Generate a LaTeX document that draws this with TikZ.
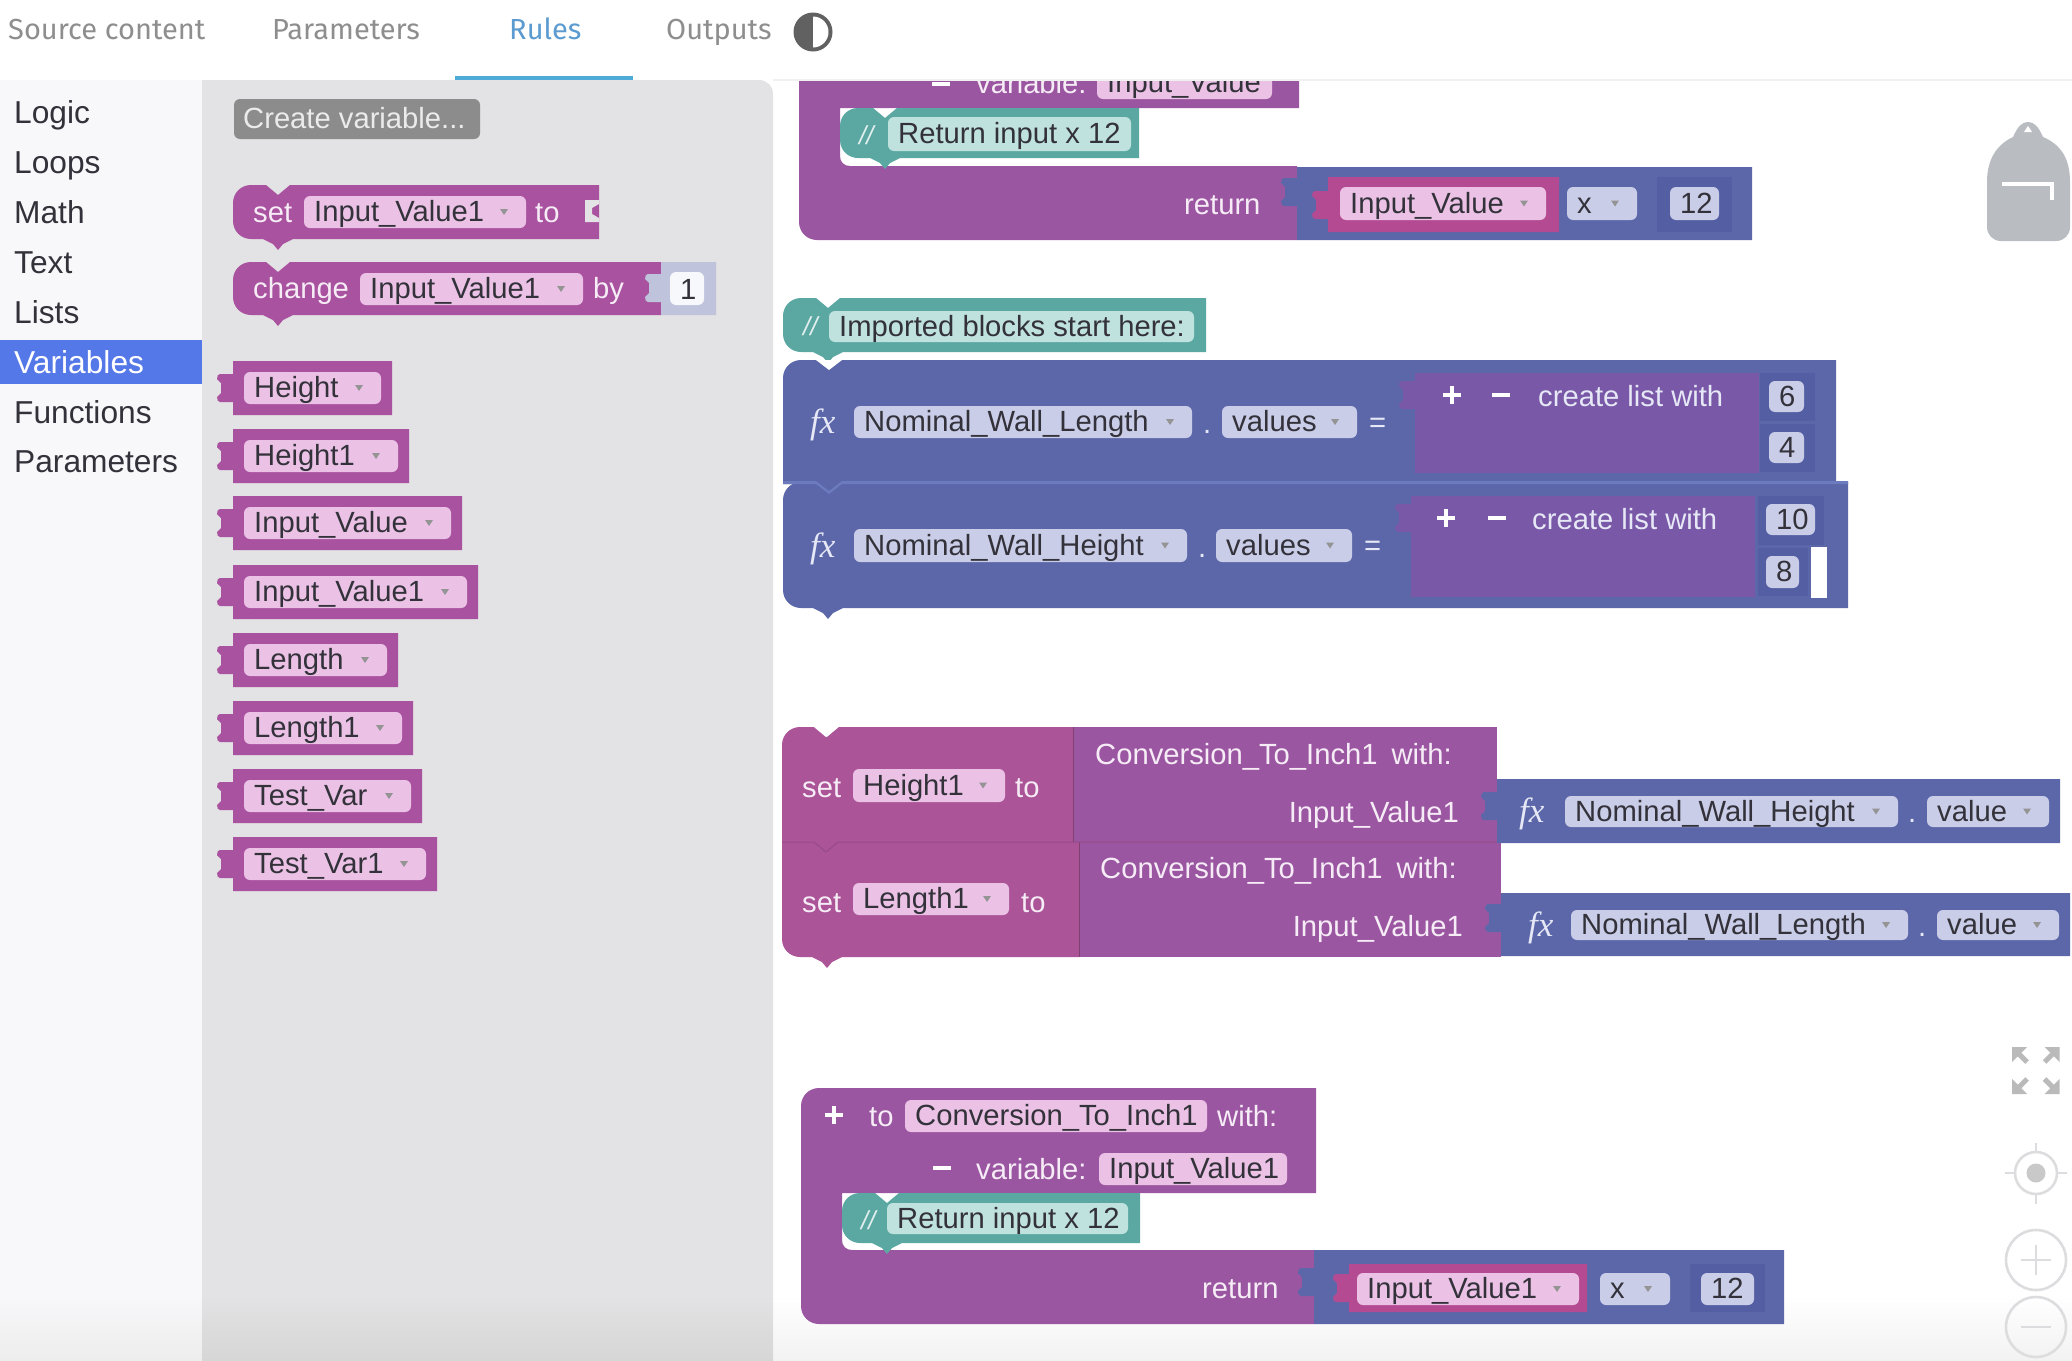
\documentclass[tikz,border=0pt]{standalone}
\usepackage{fontspec}
\setmainfont{Liberation Sans}
\newfontfamily\tabfont{Fira Sans}
\newfontfamily\fxfont{Liberation Serif}
\definecolor{menubg}{HTML}{F8F7F9}
\definecolor{flybg}{HTML}{E3E2E4}
\definecolor{selblue}{HTML}{5578E8}
\definecolor{tabgrey}{HTML}{8E8E8E}
\definecolor{tabblue}{HTML}{5C9BD0}
\definecolor{magb}{HTML}{A9529F}
\definecolor{magl}{HTML}{AC5498}
\definecolor{purb}{HTML}{9B56A2}
\definecolor{bluB}{HTML}{5B67A9}
\definecolor{bluD}{HTML}{545FA3}
\definecolor{bluH}{HTML}{6C7BBE}
\definecolor{lstb}{HTML}{7958A8}
\definecolor{tealb}{HTML}{5BA8A2}
\definecolor{pinkin}{HTML}{B34A92}
\definecolor{pinkf}{HTML}{EBC2E6}
\definecolor{bluef}{HTML}{C9CDE8}
\definecolor{tealf}{HTML}{C0E2DE}
\definecolor{ink}{HTML}{33323A}
\definecolor{softw}{HTML}{F6ECF6}
\definecolor{softb}{HTML}{E6E8F6}
\definecolor{icong}{HTML}{DDDDDF}
\definecolor{packg}{HTML}{B9BCC1}
\tikzset{
  txt/.style={inner sep=0pt,anchor=base west,font=\fontsize{29.2}{30}\selectfont,text=ink},
  wtxt/.style={txt,text=softw},
  btxt/.style={txt,text=softb},
  slash/.style={inner sep=0pt,anchor=base west,font=\itshape\fontsize{26}{28}\selectfont,text=white!82!tealb},
  menu/.style={inner sep=0pt,anchor=base west,font=\fontsize{31.7}{32}\selectfont,text=ink},
  tabtxt/.style={inner sep=0pt,anchor=base west,font=\tabfont\fontsize{29}{30}\selectfont,text=tabgrey},
  fxt/.style={inner sep=0pt,anchor=base west,font=\fxfont\itshape\fontsize{35}{36}\selectfont,text=softb},
  ico/.style={draw=icong,line width=2.6pt,fill=none},
  pm/.style={draw=white,line width=4.5pt},
}
% rounded field: x1 y1 x2 y2 fill name text
\newcommand\Fld[7]{%
  \fill[#5,rounded corners=6pt] (#1,#2) rectangle (#3,#4);
  \node[txt] (#6) at ({#1+10},{(#2+#4)/2+9.5}) {#7};
}
% field with small dropdown mark
\newcommand\Fda[7]{%
  \Fld{#1}{#2}{#3}{#4}{#5}{#6}{#7}
  \fill[black!42] ({#3-26},{(#2+#4)/2-3}) -- ({#3-18},{(#2+#4)/2-3}) -- ({#3-22},{(#2+#4)/2+3}) -- cycle;
}
% statement block with notch and tab
\newcommand\Stmt[5]{%
  \fill[#5] ({#1},{#2+18}) .. controls ({#1},{#2+8}) and ({#1+8},{#2}) .. ({#1+18},{#2}) -- ({#1+33},{#2}) -- ({#1+45},{#2+10}) -- ({#1+57},{#2}) -- ({#3},{#2}) -- ({#3},{#4}) -- ({#1+60},{#4}) -- ({#1+50},{#4+5}) -- ({#1+45},{#4+11}) -- ({#1+40},{#4+5}) -- ({#1+30},{#4}) -- ({#1+18},{#4}) .. controls ({#1+8},{#4}) and ({#1},{#4-8}) .. ({#1},{#4-18}) -- cycle;
}
% value block with jigsaw tab at left, tab centred on #5
\newcommand\Val[6]{%
  \fill[#6] (#1,#2) -- (#3,#2) -- (#3,#4) -- (#1,#4) -- (#1,{#5+14}) -- ({#1-13},{#5+14}) .. controls ({#1-15},{#5+14}) and ({#1-16},{#5+12}) .. ({#1-16},{#5+9}) -- ({#1-12},{#5+5}) -- ({#1-12},{#5-5}) -- ({#1-16},{#5-9}) .. controls ({#1-16},{#5-12}) and ({#1-15},{#5-14}) .. ({#1-13},{#5-14}) -- (#1,{#5-14}) -- cycle;
}
\newcommand\Plus[2]{\draw[pm] ({#1-9},#2) -- ({#1+9},#2) ({#1},{#2-9}) -- ({#1},{#2+9});}
\newcommand\Minus[2]{\draw[pm] ({#1-9},#2) -- ({#1+9},#2);}
\newcommand\VarBlock[4]{%
  \Val{233}{#1}{#2}{#1+54}{#1+27}{magb}
  \Fda{244}{#1+11}{#2-11}{#1+43}{pinkf}{#3}{#4}
}
\begin{document}
\begin{tikzpicture}[x=1pt,y=-1pt]
\useasboundingbox (0,0) rectangle (2072,1360);
\fill[white] (0,0) rectangle (2072,1360);
% bottom shade of the workspace
\shade[top color=white,bottom color=black!5] (773,1295) rectangle (2072,1360);
% menu pane
\fill[menubg] (0,80) rectangle (202,1295);
\shade[top color=menubg,bottom color=black!7] (0,1295) rectangle (202,1360);
% flyout
\fill[flybg] (202,80) -- (759,80) .. controls (767,80) and (773,86) .. (773,94) -- (773,1295) -- (202,1295) -- cycle;
\shade[top color=flybg,bottom color=black!16] (202,1295) rectangle (773,1360);
% top rule and tabs
\draw[black!6,line width=1.2pt] (773,80) -- (2072,80);
\fill[tabblue!85!cyan] (455,76) rectangle (633,80);
\node[tabtxt] (tabsource) at (8,39) {Source content};
\node[tabtxt] (tabparams) at (272,39) {Parameters};
\node[tabtxt,text=tabblue] (tabrules) at (509,39) {Rules};
\node[tabtxt] (tabout) at (666,39) {Outputs};
\fill[black!62] (813,32) circle (19.5);
\begin{scope}
  \clip (813,0) rectangle (840,70);
  \fill[white] (813,32) circle (15.5);
\end{scope}
% menu
\fill[selblue] (0,340) rectangle (202,384);
\node[menu] (mlogic) at (14,123) {Logic};
\node[menu] (mloops) at (14,173) {Loops};
\node[menu] (mmath) at (14,223) {Math};
\node[menu] (mtext) at (14,273) {Text};
\node[menu] (mlists) at (14,323) {Lists};
\node[menu,text=white] (mvars) at (14,373) {Variables};
\node[menu] (mfuncs) at (14,423) {Functions};
\node[menu] (mparams) at (14,472) {Parameters};
% flyout content
\fill[black!45,rounded corners=6pt] (234,99) rectangle (480,139);
\node[wtxt,text=white!92!black] (createvar) at (243,128) {Create variable...};
\Stmt{233}{185}{599}{239}{magb}
\node[wtxt] (fset) at (253,222) {set};
\Fda{304}{196}{526}{228}{pinkf}{fsetv}{Input\_Value1}
\node[wtxt] (fto) at (535,222) {to};
\fill[flybg] (599,200) -- (585,200) -- (585,222) -- (599,222) -- (599,218) -- (592,214) -- (592,208) -- (599,204) -- cycle;
\Stmt{233}{262}{661}{315}{magb}
\node[wtxt] (fchg) at (253,298) {change};
\Fda{360}{273}{583}{305}{pinkf}{fchgv}{Input\_Value1}
\node[wtxt] (fby) at (593,298) {by};
\Val{661}{262}{716}{315}{288}{bluef!95!black}
\fill[white!85!bluef,rounded corners=6pt] (670,272) rectangle (704,305);
\node[txt] (fone) at (680,299) {1};
\VarBlock{361}{392}{vheight}{Height}
\VarBlock{429}{409}{vheighta}{Height1}
\VarBlock{496}{462}{vinput}{Input\_Value}
\VarBlock{565}{478}{vinputa}{Input\_Value1}
\VarBlock{633}{398}{vlength}{Length}
\VarBlock{701}{413}{vlengtha}{Length1}
\VarBlock{769}{422}{vtest}{Test\_Var}
\VarBlock{837}{437}{vtesta}{Test\_Var1}
% --- top function, cut by the tab bar
\fill[purb] (799,81) -- (1299,81) -- (1299,108) -- (840,108) -- (840,156) .. controls (840,162) and (844,166) .. (850,166) -- (1297,166) -- (1297,240) -- (817,240) .. controls (807,240) and (799,232) .. (799,222) -- cycle;
\begin{scope}
  \clip (799,81) rectangle (1299,110);
  \Minus{941}{84}
  \node[wtxt] (tvar) at (976,93) {variable:};
  \Fld{1097}{66}{1272}{99}{pinkf}{tvarv}{Input\_Value}
\end{scope}
\Stmt{840}{108}{1139}{158}{tealb}
\node[slash] (tcs) at (859,144) {//};
\Fld{888}{117}{1131}{151}{tealf}{tcom}{Return input x 12}
\Val{1297}{167}{1752}{240}{192}{bluB}
\Val{1328}{177}{1559}{232}{205}{pinkin}
\node[wtxt] (tret) at (1184,214) {return};
\Fda{1340}{187}{1546}{220}{pinkf}{tinp}{Input\_Value}
\Fda{1567}{187}{1637}{220}{bluef}{tx}{x}
\fill[bluD] (1657,177) rectangle (1732,232);
\Fld{1670}{187}{1719}{220}{bluef}{ttw}{12}
% --- imported comment
\Stmt{783}{298}{1206}{352}{tealb}
\node[slash] (ics) at (803,335) {//};
\Fld{829}{311}{1194}{342}{tealf}{icom}{Imported blocks start here:}
% --- lists
\Stmt{783}{482}{1848}{608}{bluB}
\fill[bluB] (783,378) .. controls (783,368) and (791,360) .. (801,360) -- (1836,360) -- (1836,484) -- (783,484) -- cycle;
\fill[bluB] (805,480) rectangle (853,500);
\fill[white] (816,360) -- (829,370) -- (842,360) -- cycle;
\fill[bluH] (783,481) -- (816,481) -- (829,491) -- (842,481) -- (1848,481) -- (1848,484) -- (842,484) -- (829,494) -- (816,484) -- (783,484) -- cycle;
% list 1
\node[fxt] (fa) at (810,433) {fx};
\Fda{854}{406}{1192}{438}{bluef}{nwl}{Nominal\_Wall\_Length}
\node[btxt] (da) at (1203,433) {.};
\Fda{1222}{406}{1357}{438}{bluef}{va}{values}
\node[btxt] (ea) at (1369,432) {=};
\Val{1415}{373}{1759}{473}{395}{lstb}
\Plus{1452}{395}\Minus{1501}{395}
\node[btxt] (cla) at (1538,406) {create list with};
\fill[bluD] (1760,373) rectangle (1815,421);
\fill[bluD] (1760,424) rectangle (1815,472);
\Fld{1769}{381}{1804}{412}{bluef}{six}{6}
\Fld{1769}{432}{1804}{463}{bluef}{four}{4}
% list 2
\node[fxt] (fb) at (810,557) {fx};
\Fda{854}{529}{1187}{562}{bluef}{nwh}{Nominal\_Wall\_Height}
\node[btxt] (db) at (1198,557) {.};
\Fda{1216}{529}{1352}{562}{bluef}{vb}{values}
\node[btxt] (eb) at (1364,555) {=};
\Val{1411}{496}{1755}{597}{518}{lstb}
\Plus{1446}{518}\Minus{1497}{518}
\node[btxt] (clb) at (1532,529) {create list with};
\fill[bluD] (1758,496) rectangle (1824,545);
\fill[bluD] (1758,548) rectangle (1808,596);
\Fld{1766}{504}{1815}{535}{bluef}{ten}{10}
\Fld{1766}{556}{1799}{588}{bluef}{eight}{8}
\fill[white] (1811,547) rectangle (1827,598);
% --- set blocks
\Stmt{782}{842}{1079}{957}{magl}
\fill[purb] (1079,842) rectangle (1501,957);
\Stmt{782}{727}{1073}{842}{magl}
\fill[magl] (782,815) rectangle (850,868);
\fill[purb] (1073,727) rectangle (1497,842);
\fill[white] (814,727) -- (826,737) -- (838,727) -- cycle;
\draw[black!25!magl,line width=1pt] (1073,727) -- (1073,842);
\draw[black!25!magl,line width=1pt] (1079,842) -- (1079,957);
\draw[black!12!magl,line width=1pt] (782,842) -- (814,842) -- (826,852) -- (838,842) -- (1497,842);
\node[wtxt] (sa) at (802,797) {set};
\Fda{853}{769}{1005}{802}{pinkf}{sah}{Height1}
\node[wtxt] (sato) at (1015,797) {to};
\node[wtxt] (caa) at (1095,764) {Conversion\_To\_Inch1\hspace{14pt}with:};
\node[wtxt,anchor=base east] (ina) at (1459,822) {Input\_Value1};
\Val{1497}{779}{2060}{843}{806}{bluB}
\node[fxt] (fc) at (1519,822) {fx};
\Fda{1565}{796}{1898}{827}{bluef}{cnwh}{Nominal\_Wall\_Height}
\node[btxt] (dc) at (1908,822) {.};
\Fda{1927}{796}{2049}{827}{bluef}{cva}{value}
\node[wtxt] (sb) at (802,912) {set};
\Fda{853}{883}{1009}{915}{pinkf}{sbl}{Length1}
\node[wtxt] (sbto) at (1021,912) {to};
\node[wtxt] (cab) at (1100,878) {Conversion\_To\_Inch1\hspace{14pt}with:};
\node[wtxt,anchor=base east] (inb) at (1463,936) {Input\_Value1};
\Val{1501}{893}{2070}{956}{918}{bluB}
\node[fxt] (fd) at (1528,936) {fx};
\Fda{1571}{910}{1908}{940}{bluef}{dnwl}{Nominal\_Wall\_Length}
\node[btxt] (dd) at (1918,936) {.};
\Fda{1937}{910}{2059}{940}{bluef}{dva}{value}
% --- bottom function
\fill[purb] (801,1106) .. controls (801,1096) and (809,1088) .. (819,1088) -- (1316,1088) -- (1316,1193) -- (842,1193) -- (842,1240) .. controls (842,1246) and (846,1250) .. (852,1250) -- (1314,1250) -- (1314,1324) -- (819,1324) .. controls (809,1324) and (801,1316) .. (801,1306) -- cycle;
\Plus{834}{1115}
\node[wtxt] (bto) at (869,1126) {to};
\Fld{905}{1100}{1207}{1132}{pinkf}{bname}{Conversion\_To\_Inch1}
\node[wtxt] (bwith) at (1217,1126) {with:};
\Minus{942}{1168}
\node[wtxt] (bvar) at (976,1179) {variable:};
\Fld{1099}{1153}{1287}{1185}{pinkf}{bvarv}{Input\_Value1}
\Stmt{842}{1193}{1140}{1243}{tealb}
\node[slash] (bcs) at (861,1229) {//};
\Fld{887}{1203}{1128}{1234}{tealf}{bcom}{Return input x 12}
\Val{1314}{1250}{1784}{1324}{1282}{bluB}
\Val{1349}{1264}{1587}{1312}{1288}{pinkin}
\node[wtxt] (bret) at (1202,1298) {return};
\Fda{1357}{1273}{1579}{1305}{pinkf}{binp}{Input\_Value1}
\Fda{1600}{1273}{1670}{1305}{bluef}{bx}{x}
\fill[bluD] (1690,1264) rectangle (1765,1312);
\Fld{1701}{1273}{1754}{1305}{bluef}{btw}{12}
% --- backpack
\fill[packg] (2013,137) .. controls (2018,126) and (2022,122) .. (2028,122) .. controls (2034,122) and (2038,126) .. (2043,137) .. controls (2062,145) and (2070,160) .. (2070,182) -- (2070,227) .. controls (2070,235) and (2064,241) .. (2056,241) -- (2001,241) .. controls (1993,241) and (1987,235) .. (1987,227) -- (1987,182) .. controls (1987,160) and (1996,145) .. (2013,137) -- cycle;
\fill[white] (2024,132) -- (2028,126) -- (2032,132) -- cycle;
\draw[white,line width=4.5pt] (2002,184) -- (2052,184) -- (2052,200);
% --- view controls
\foreach \sx/\sy in {2020/1055,2051.5/1055,2020/1086,2051.5/1086}{
  \pgfmathsetmacro\dx{\sx<2030?1:-1}
  \pgfmathsetmacro\dy{\sy<1070?1:-1}
  \fill[black!27] ({\sx-\dx*8},{\sy-\dy*8}) -- ({\sx+\dx*7},{\sy-\dy*8}) -- ({\sx-\dx*8},{\sy+\dy*7}) -- cycle;
  \draw[black!27,line width=5pt] ({\sx-\dx*2},{\sy-\dy*2}) -- ({\sx+\dx*7},{\sy+\dy*7});
}
\draw[ico] (2036,1173) circle (21);
\fill[black!21] (2036,1173) circle (9.5);
\draw[ico] (2036,1143) -- (2036,1152) (2036,1194) -- (2036,1204) (2005,1173) -- (2015,1173) (2057,1173) -- (2067,1173);
\draw[ico] (2036,1260) circle (30);
\draw[ico] (2036,1245) -- (2036,1275) (2021,1260) -- (2051,1260);
\draw[ico] (2036,1327) circle (30);
\draw[ico] (2021,1327) -- (2051,1327);
\end{tikzpicture}
\end{document}
